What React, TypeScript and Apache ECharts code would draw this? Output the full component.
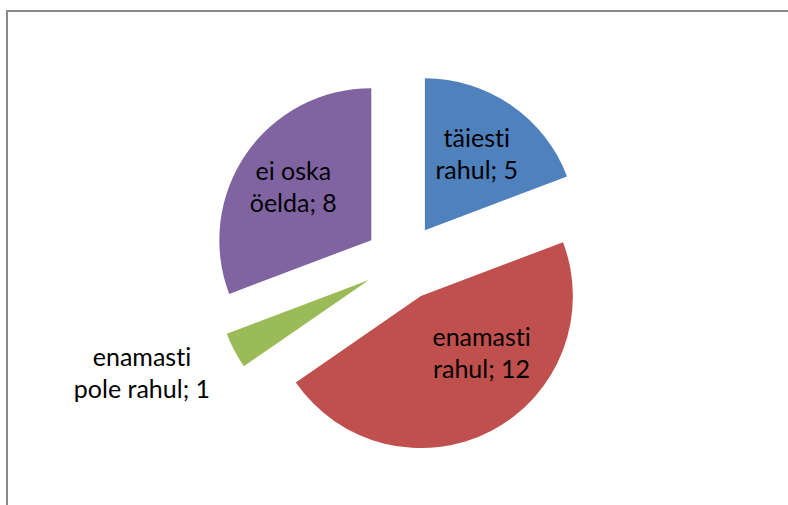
import React, { useEffect, useRef } from "react";
import * as echarts from "echarts";

// Categories (label line breaks as in the reference) and values
const categories = ["täiesti\nrahul", "enamasti\nrahul", "enamasti\npole rahul", "ei oska\nöelda"];
const values = [5, 12, 1, 8];
const colors = ["#4F81BD", "#C0504D", "#9BBB59", "#8064A2"];

export default function App() {
  const ref = useRef<HTMLDivElement>(null);

  useEffect(() => {
    if (!ref.current) return;
    const chart = echarts.init(ref.current, null, { renderer: "svg" });
    const labelShift = [
      [7, -12],
      [24, -14],
      [-157, 55],
      [-13, -9],
    ];
    chart.setOption({
      animation: false,
      backgroundColor: "#ffffff",
      graphic: [
        {
          type: "rect",
          shape: { x: 7, y: 11, width: 820, height: 620 },
          style: { fill: "none", stroke: "#898989", lineWidth: 2 },
          silent: true,
        },
      ],
      series: [
        {
          type: "pie",
          center: [403, 262],
          radius: [0, 152],
          startAngle: 90,
          clockwise: true,
          selectedMode: "multiple",
          selectedOffset: 38.5,
          emphasis: { disabled: true },
          itemStyle: { borderWidth: 0 },
          label: {
            show: true,
            position: "inside",
            formatter: (p: any) => `${p.name}; ${p.value}`,
            color: "#000000",
            fontFamily: "Lato",
            fontSize: 25,
            lineHeight: 32,
            align: "center",
          },
          labelLine: { show: false },
          labelLayout: (p: any) => {
            const s = labelShift[p.dataIndex];
            return { dx: s[0], dy: s[1] };
          },
          data: categories.map((name, i) => ({
            name,
            value: values[i],
            selected: true,
            itemStyle: { color: colors[i] },
          })),
        },
      ],
    });
    return () => chart.dispose();
  }, []);

  return (
    <div
      ref={ref}
      style={{
        position: "absolute",
        left: 0,
        top: 0,
        width: 788,
        height: 505,
        fontVariantLigatures: "none",
      }}
    />
  );
}
